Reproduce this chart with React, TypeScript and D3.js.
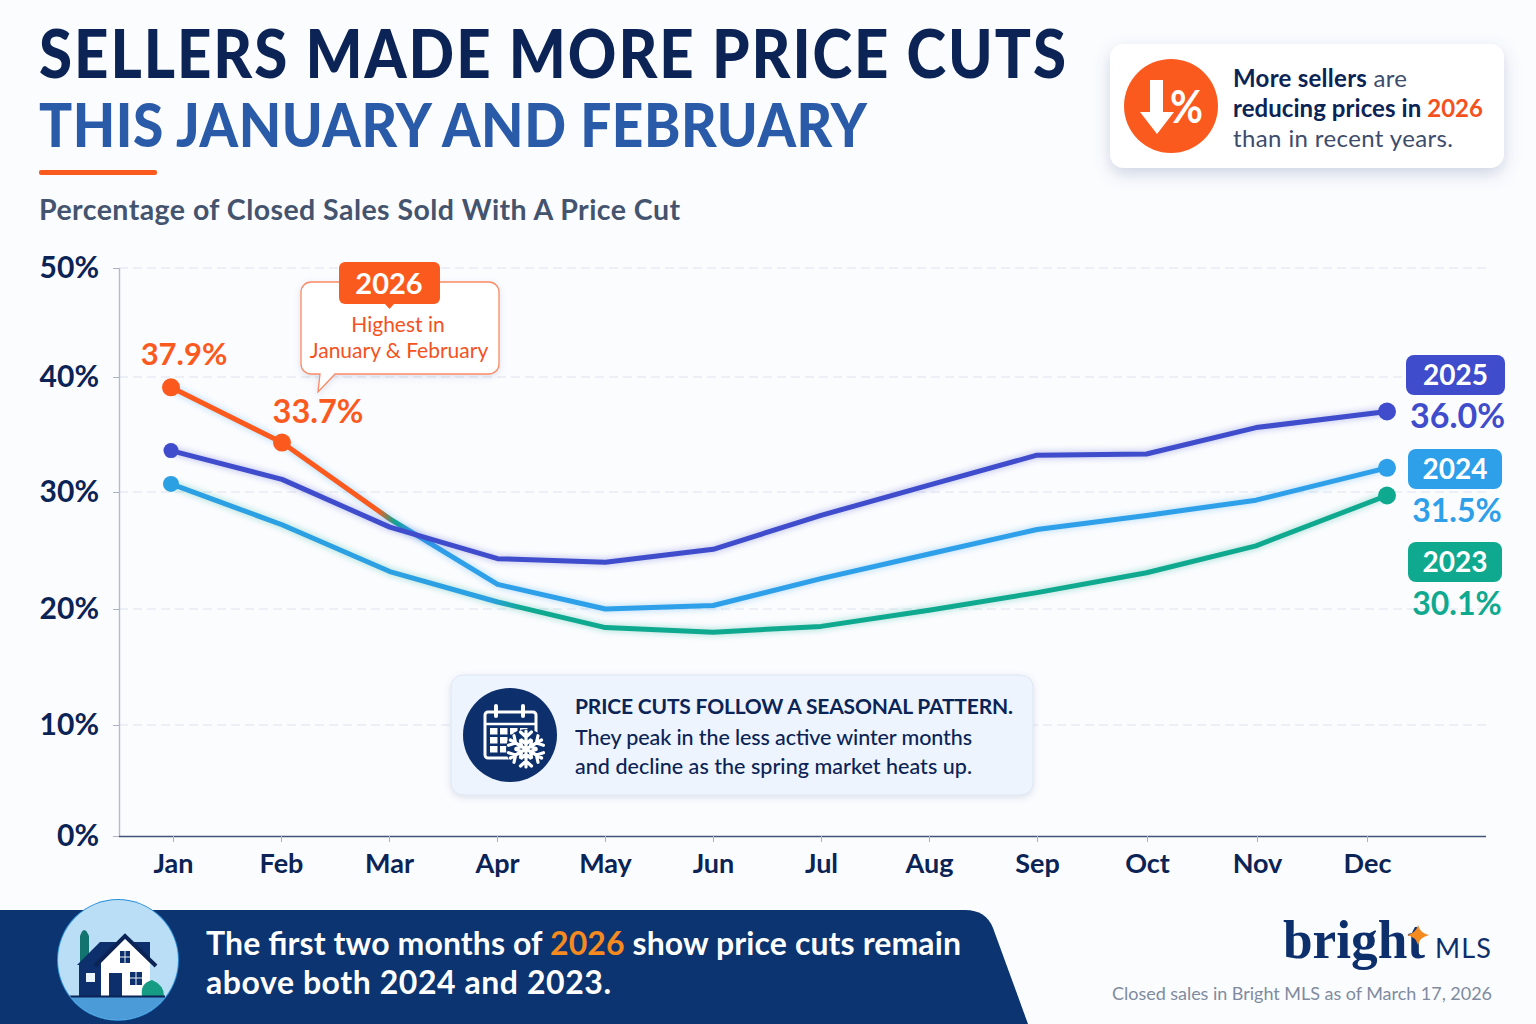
import React, { useEffect, useRef } from 'react';
import * as d3 from 'd3';

const months = ['Jan', 'Feb', 'Mar', 'Apr', 'May', 'Jun', 'Jul', 'Aug', 'Sep', 'Oct', 'Nov', 'Dec'];
const yTicks = [0, 10, 20, 30, 40, 50];

// the drawn lines hand over colour part way: orange 2026 runs into the 2024 blue at Mar,
// and the blue start of the lower line turns into 2023 teal after Apr
const upperLine = [39.1, 34.3, 27.7, 22.1, 20.0, 20.3, 22.6, 24.7, 26.8, 28.0, 29.3, 32.1];
const line2025 = [33.6, 31.1, 27.0, 24.3, 24.0, 25.1, 28.0, 30.6, 33.2, 33.3, 35.6, 37.0];
const lowerLine = [30.7, 27.2, 23.2, 20.6, 18.4, 18.0, 18.5, 19.9, 21.4, 23.1, 25.4, 29.7];

const endBadges = [
  { year: '2025', value: '36.0%', color: '#3f4ccb', x: 1406, w: 99, y: 355, size: 34 },
  { year: '2024', value: '31.5%', color: '#2e9fe9', x: 1408, w: 94, y: 449, size: 32 },
  { year: '2023', value: '30.1%', color: '#0fa98f', x: 1408, w: 94, y: 542, size: 32 },
];

const ORANGE = '#fb5a1e';
const NAVY = '#0b2355';
const FONT = 'Lato, sans-serif';

const yScale = d3.scaleLinear().domain(yTicks).range([836, 725, 609, 492, 377, 268]);
// month spacing is slightly uneven in the reference, and Dec's points sit right of its tick
const tickX = d3.scaleLinear().domain([0, 6, 8, 11]).range([173, 821, 1037, 1367]);
const lineX = d3.scaleLinear().domain([0, 1, 6, 8, 10, 11]).range([171, 282, 821, 1037, 1256, 1387]);

const lineGen = d3
  .line<number>()
  .x((_, i) => lineX(i))
  .y(d => yScale(d));

const Snowflake = () => {
  const arms = d3.range(6).map(i => i * 60);
  return (
    <g transform="translate(526,749)" stroke="#fff" strokeWidth={3.2} strokeLinecap="round" fill="none">
      <circle r={20} fill="#0d2f6b" stroke="none" />
      {arms.map(a => (
        <path key={a} transform={`rotate(${a})`} d="M0,0V-18M-5.500,-17L0,-12L5.500,-17M-4.500,-9L0,-5L4.500,-9" />
      ))}
    </g>
  );
};

const App: React.FC = () => {
  const xAxisRef = useRef<SVGGElement>(null);
  const yAxisRef = useRef<SVGGElement>(null);

  useEffect(() => {
    document.body.style.margin = '0';

    const xg = d3.select(xAxisRef.current!);
    xg.selectAll('*').remove();
    xg.call(
      d3.axisBottom(tickX)
        .tickValues(d3.range(months.length))
        .tickFormat(i => months[+i])
        .tickSize(6)
        .tickPadding(12)
        .tickSizeOuter(0)
    );
    xg.select('.domain').attr('stroke', '#3f5478').attr('stroke-width', 1.6).attr('d', 'M119,0.5H1486');
    xg.selectAll('.tick line').attr('stroke', '#a9b3c4');
    xg.selectAll('.tick text')
      .attr('fill', NAVY)
      .attr('font-family', FONT)
      .attr('font-weight', 700)
      .attr('font-size', 27);

    const yg = d3.select(yAxisRef.current!);
    yg.selectAll('*').remove();
    yg.call(d3.axisLeft(yScale).tickValues(yTicks).tickFormat(d => `${d}%`).tickSize(6).tickPadding(14).tickSizeOuter(0));
    yg.select('.domain').attr('stroke', '#b4bccb').attr('stroke-width', 1.4).attr('d', 'M0.5,268V836');
    yg.selectAll('.tick line').attr('stroke', '#a9b3c4');
    yg.selectAll('.tick text')
      .attr('fill', NAVY)
      .attr('font-family', FONT)
      .attr('font-weight', 700)
      .attr('font-size', 30);
  }, []);

  const marX = lineX(2);
  const aprX = lineX(3);

  return (
    <svg width={1536} height={1024} viewBox="0 0 1536 1024" style={{ position: 'absolute', left: 0, top: 0, display: 'block' }} fontFamily={FONT}>
      <defs>
        <filter id="card" x="-15%" y="-25%" width="130%" height="160%">
          <feDropShadow dx="0" dy="6" stdDeviation="8" floodColor="#5a6f9c" floodOpacity="0.28" />
        </filter>
        <filter id="soft" x="-15%" y="-25%" width="130%" height="160%">
          <feDropShadow dx="0" dy="2" stdDeviation="3" floodColor="#5a6f9c" floodOpacity="0.2" />
        </filter>
        <filter id="glow" x="-5%" y="-20%" width="110%" height="140%">
          <feGaussianBlur stdDeviation="3" />
        </filter>
        <linearGradient id="upperGrad" gradientUnits="userSpaceOnUse" x1={marX - 12} y1={0} x2={marX + 22} y2={0}>
          <stop offset="0" stopColor={ORANGE} />
          <stop offset="0.5" stopColor="#0fa98f" />
          <stop offset="1" stopColor="#2e9fe9" />
        </linearGradient>
        <linearGradient id="lowerGrad" gradientUnits="userSpaceOnUse" x1={aprX - 8} y1={0} x2={aprX + 25} y2={0}>
          <stop offset="0" stopColor="#2ba0e2" />
          <stop offset="1" stopColor="#0fa98f" />
        </linearGradient>
        <clipPath id="houseClip">
          <circle cx={118} cy={960} r={60} />
        </clipPath>
      </defs>

      <rect width={1536} height={1024} fill="#fbfcfe" />

      {/* header: stretched a bit since Lato runs wider than the reference's face at this cap height */}
      <text transform="translate(39,78) scale(1,1.1)" fontSize={60} fontWeight={900} fill={NAVY} textLength={1027} lengthAdjust="spacing">SELLERS MADE MORE PRICE CUTS</text>
      <text transform="translate(39,147) scale(1,1.1)" fontSize={55} fontWeight={900} fill="#2a5ba8" textLength={828} lengthAdjust="spacing">THIS JANUARY AND FEBRUARY</text>
      <rect x={39} y={170} width={118} height={5} rx={2} fill={ORANGE} />
      <text x={39} y={220} fontSize={28.500} fontWeight={700} fill="#44546f" textLength={641} lengthAdjust="spacing">Percentage of Closed Sales Sold With A Price Cut</text>

      {/* top right card */}
      <rect x={1110} y={44} width={394} height={124} rx={14} fill="#fff" filter="url(#card)" />
      <circle cx={1171} cy={106} r={47} fill={ORANGE} />
      <path d="M1150,80H1163V112H1174L1157,134L1140,112H1150Z" fill="#fff" />
      <text x={1170} y={123} fontSize={46} fontWeight={700} fill="#fff" textLength={33} lengthAdjust="spacingAndGlyphs">%</text>
      <text x={1233} y={87} fontSize={24} fill="#3d4c6b" textLength={174} lengthAdjust="spacing">
        <tspan fontWeight={700} fill={NAVY}>More sellers</tspan> are
      </text>
      <text x={1233} y={117} fontSize={24} fontWeight={700} fill={NAVY} textLength={250} lengthAdjust="spacing">
        reducing prices in <tspan fill="#f4511e">2026</tspan>
      </text>
      <text x={1233} y={147} fontSize={24} fill="#3d4c6b" textLength={220} lengthAdjust="spacing">than in recent years.</text>

      {/* grid and axes */}
      <g stroke="#dde2ee" strokeWidth={1.2} strokeDasharray="9 5">
        {yTicks.slice(1).map(t => (
          <line key={t} x1={119} x2={1486} y1={yScale(t)} y2={yScale(t)} />
        ))}
      </g>
      <g ref={yAxisRef} transform="translate(119,0)" />
      <g ref={xAxisRef} transform="translate(0,836)" />

      {/* lines */}
      <g fill="none" strokeWidth={5} strokeLinejoin="round" strokeLinecap="round">
        <path d={lineGen(lowerLine)!} stroke="#0fa98f" strokeWidth={7} opacity={0.3} filter="url(#glow)" />
        <path d={lineGen(lowerLine)!} stroke="url(#lowerGrad)" />
        <path d={lineGen(upperLine)!} stroke="#2e9fe9" strokeWidth={7} opacity={0.3} filter="url(#glow)" />
        <path d={lineGen(upperLine)!} stroke="url(#upperGrad)" />
        <path d={lineGen(line2025)!} stroke="#3f4ccb" strokeWidth={7} opacity={0.3} filter="url(#glow)" />
        <path d={lineGen(line2025)!} stroke="#3f4ccb" />
      </g>
      <circle cx={lineX(0)} cy={yScale(upperLine[0])} r={9} fill={ORANGE} />
      <circle cx={lineX(1)} cy={yScale(upperLine[1])} r={9} fill={ORANGE} />
      <circle cx={lineX(0)} cy={yScale(line2025[0])} r={7.5} fill="#3f4ccb" />
      <circle cx={lineX(0)} cy={yScale(lowerLine[0])} r={8} fill="#2ba0e2" />
      <circle cx={lineX(11)} cy={yScale(line2025[11])} r={9} fill="#3f4ccb" />
      <circle cx={lineX(11)} cy={yScale(upperLine[11])} r={9} fill="#2e9fe9" />
      <circle cx={lineX(11)} cy={yScale(lowerLine[11])} r={9} fill="#0fa98f" />

      {/* 2026 callout */}
      <text x={184} y={365} textAnchor="middle" fontSize={31} fontWeight={700} fill={ORANGE}>37.9%</text>
      <text x={318} y={423} textAnchor="middle" fontSize={32.500} fontWeight={700} fill={ORANGE}>33.7%</text>
      <path
        d="M311,282H489a10,10 0 0 1 10,10V364a10,10 0 0 1 -10,10H335L318,392L320,374H311a10,10 0 0 1 -10,-10V292a10,10 0 0 1 10,-10Z"
        fill="#fff"
        stroke="#fb8a66"
        strokeWidth={1.3}
        filter="url(#soft)"
      />
      <rect x={339} y={262} width={101} height={42} rx={6} fill={ORANGE} />
      <path d="M385,304H394L389.500,309Z" fill={ORANGE} />
      <text x={389} y={294} textAnchor="middle" fontSize={29} fontWeight={700} fill="#fff">2026</text>
      <text x={398} y={332} textAnchor="middle" fontSize={21} fill="#f4511e">Highest in</text>
      <text x={399} y={358} textAnchor="middle" fontSize={21} fill="#f4511e">January &amp; February</text>

      {/* end labels */}
      {endBadges.map(b => (
        <g key={b.year}>
          <rect x={b.x} y={b.y} width={b.w} height={40} rx={8} fill={b.color} />
          <text x={b.x + b.w / 2} y={b.y + 30} textAnchor="middle" fontSize={28} fontWeight={700} fill="#fff">{b.year}</text>
          <text x={b.x + b.w / 2 + 2} y={b.y + 73} textAnchor="middle" fontSize={b.size} fontWeight={700} fill={b.color}>{b.value}</text>
        </g>
      ))}

      {/* seasonal note */}
      <rect x={451} y={675} width={582} height={120} rx={12} fill="#edf4fd" stroke="#dde7f3" filter="url(#soft)" />
      <circle cx={510} cy={735} r={47} fill="#0d2f6b" />
      <g fill="none" stroke="#fff" strokeWidth={3}>
        <rect x={485} y={712} width={51} height={46} rx={3} />
        <path d="M485,724H536" strokeWidth={2.5} />
        <path d="M496,706V716M523,706V716" strokeLinecap="round" strokeWidth={4} />
      </g>
      <g fill="#fff">
        {d3.range(3).flatMap(r =>
          d3.range(4).map(c => <rect key={`${r}-${c}`} x={490 + c * 10} y={728 + r * 9} width={7.5} height={6.5} />)
        )}
      </g>
      <Snowflake />
      <text x={575} y={714} fontSize={21} fontWeight={700} fill={NAVY} textLength={438} lengthAdjust="spacing">PRICE CUTS FOLLOW A SEASONAL PATTERN.</text>
      <text x={575} y={745} fontSize={21.500} fill={NAVY} fontWeight={500} textLength={397} lengthAdjust="spacing">They peak in the less active winter months</text>
      <text x={575} y={774} fontSize={21.500} fill={NAVY} fontWeight={500} textLength={397} lengthAdjust="spacing">and decline as the spring market heats up.</text>

      {/* bottom banner */}
      <path d="M0,910H965Q986,910 993,928L1028,1024H0Z" fill="#0b3470" />
      <text x={206} y={955} fontSize={32} fontWeight={700} fill="#fff" textLength={755} lengthAdjust="spacing">
        The first two months of <tspan fill="#f58a1f">2026</tspan> show price cuts remain
      </text>
      <text x={206} y={994} fontSize={32} fontWeight={700} fill="#fff" textLength={405} lengthAdjust="spacing">above both 2024 and 2023.</text>

      {/* house */}
      <circle cx={118} cy={960} r={61} fill="#2a8fd8" />
      <g clipPath="url(#houseClip)">
        <rect x={58} y={900} width={120} height={122} fill="#b9def5" />
        <rect x={58} y={997} width={120} height={25} fill="#4a9bd8" />
        <path d="M80,962V936Q84,924 89,936V962Z" fill="#13736f" />
        <path d="M77,965L100,942H150V965Z" fill="#0d2f6b" />
        <rect x={79} y={965} width={30} height={31} fill="#0d2f6b" />
        <path d="M101,996V961L125,938L150,961V996Z" fill="#fff" />
        <path d="M95,966L125,936L156,966" fill="none" stroke="#0b2355" strokeWidth={4} />
        <rect x={120} y={951} width={10} height={12} fill="#0d2f6b" />
        <path d="M125,951V963M120,957H130" stroke="#eaf4fb" strokeWidth={1} />
        <rect x={109} y={973} width={13} height={23} fill="#0d2f6b" />
        <rect x={130} y={972} width={12} height={13} fill="#0d2f6b" />
        <path d="M136,972V985M130,978H142" stroke="#eaf4fb" strokeWidth={1} />
        <rect x={86} y={973} width={9} height={9} fill="#eaf4fb" />
        <path d="M142,996Q140,983 152,980Q164,985 164,996Z" fill="#159c83" />
        <path d="M70,996.500H165" stroke="#0b2355" strokeWidth={2} />
      </g>

      {/* logo and source */}
      <text x={1283} y={958} fontFamily="'Liberation Serif', serif" fontWeight={700} fontSize={54} fill="#0d2f6b" textLength={142} lengthAdjust="spacingAndGlyphs">bright</text>
      <path d="M1418,925Q1420,933 1429,935Q1420,937 1418,945Q1416,937 1407,935Q1416,933 1418,925Z" fill="#f58a1f" />
      <text x={1435} y={958} fontSize={27} fill="#0d2f6b" textLength={56} lengthAdjust="spacing">MLS</text>
      <text x={1112} y={1000} fontSize={18} fill="#7f8ba0" textLength={380} lengthAdjust="spacing">Closed sales in Bright MLS as of March 17, 2026</text>
    </svg>
  );
};

export default App;
